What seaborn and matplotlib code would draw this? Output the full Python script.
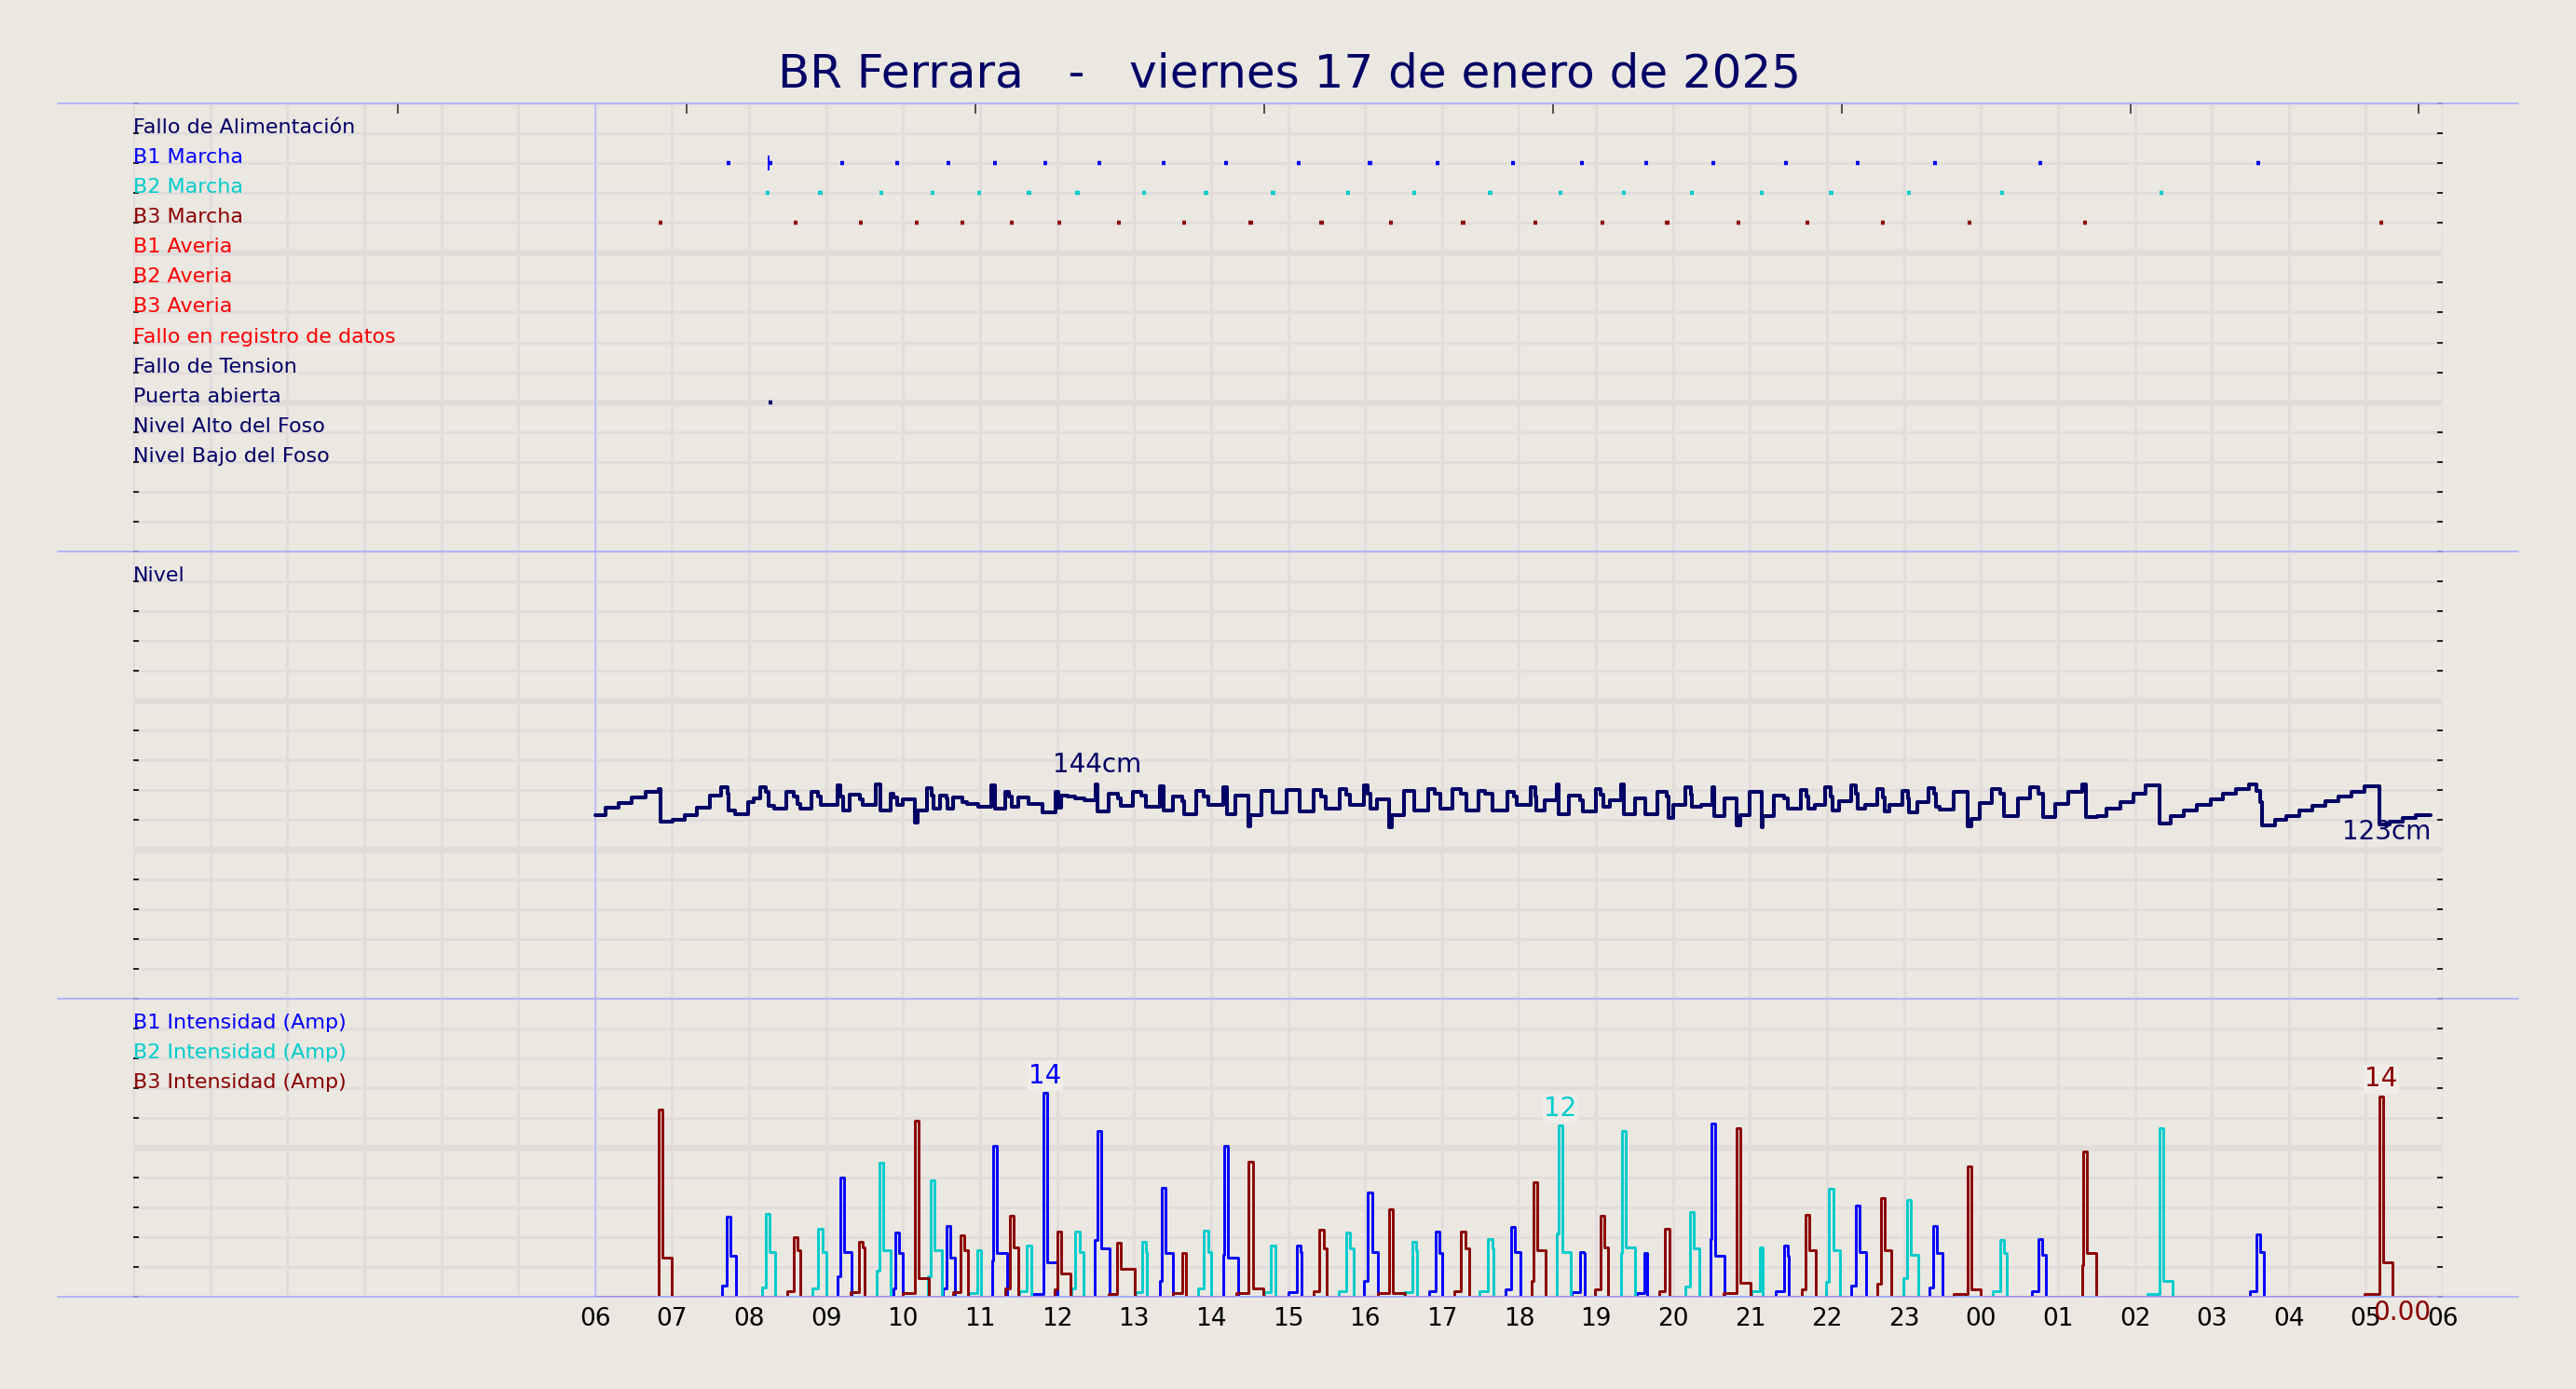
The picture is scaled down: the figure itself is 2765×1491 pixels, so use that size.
import numpy as np
import pandas as pd
import matplotlib
matplotlib.use("Agg")
import matplotlib.pyplot as plt
from matplotlib.lines import Line2D
import seaborn as sns

TITLE = "BR Ferrara   -   viernes 17 de enero de 2025"

NAVY = "#000066"
BLUE = "#0000ff"
CYAN = "#00cccc"
DRED = "#8b0000"
RED = "#ff0000"
BG = "#ebe7e1"
GRID = "#e1dcdb"
LAV = "#aaaaff"

# digital signals, top panel, one row each from the top
signal_names = ["Fallo de Alimentación", "B1 Marcha", "B2 Marcha", "B3 Marcha",
                "B1 Averia", "B2 Averia", "B3 Averia", "Fallo en registro de datos",
                "Fallo de Tension", "Puerta abierta", "Nivel Alto del Foso",
                "Nivel Bajo del Foso"]
signal_colors = [NAVY, BLUE, CYAN, DRED, RED, RED, RED, RED, NAVY, NAVY, NAVY, NAVY]

hour_ticks = list(range(6, 31))
hour_labels = [f"{h % 24:02d}" for h in hour_ticks]

# pit level (decimal hour from 00:00 on the 17th, cm)
level_t = [6.00, 6.14, 6.31, 6.48, 6.65, 6.82, 6.85, 7.01, 7.16, 7.32, 7.49, 7.64, 7.72, 7.73,
           7.82, 7.99, 8.06, 8.15, 8.22, 8.25, 8.32, 8.48, 8.58, 8.63, 8.66, 8.81, 8.90, 8.93,
           9.15, 9.19, 9.22, 9.31, 9.44, 9.48, 9.65, 9.70, 9.71, 9.84, 9.88, 9.92, 10.00, 10.15,
           10.19, 10.31, 10.37, 10.40, 10.48, 10.56, 10.58, 10.65, 10.77, 10.83, 10.98, 11.15,
           11.19, 11.33, 11.37, 11.41, 11.49, 11.63, 11.81, 11.98, 12.02, 12.05, 12.14, 12.24,
           12.35, 12.50, 12.53, 12.67, 12.79, 12.83, 12.99, 13.09, 13.15, 13.33, 13.38, 13.51,
           13.63, 13.65, 13.81, 13.90, 13.96, 14.16, 14.21, 14.32, 14.48, 14.51, 14.66, 14.80,
           14.98, 15.15, 15.33, 15.43, 15.49, 15.67, 15.75, 15.81, 15.99, 16.04, 16.07, 16.15,
           16.31, 16.35, 16.50, 16.64, 16.82, 16.90, 16.98, 17.14, 17.24, 17.32, 17.48, 17.56,
           17.65, 17.85, 17.93, 17.97, 18.15, 18.21, 18.23, 18.33, 18.49, 18.52, 18.65, 18.79,
           18.83, 19.00, 19.06, 19.10, 19.18, 19.32, 19.36, 19.51, 19.64, 19.80, 19.92, 19.94,
           20.00, 20.16, 20.23, 20.25, 20.37, 20.51, 20.53, 20.67, 20.83, 20.87, 20.99, 21.15,
           21.17, 21.31, 21.44, 21.49, 21.66, 21.73, 21.76, 21.84, 21.98, 22.05, 22.07, 22.16,
           22.32, 22.38, 22.40, 22.50, 22.65, 22.73, 22.75, 22.81, 22.98, 23.05, 23.06, 23.17,
           23.32, 23.39, 23.41, 23.47, 23.64, 23.83, 23.87, 23.98, 24.14, 24.25, 24.30, 24.48,
           24.64, 24.75, 24.81, 24.97, 25.14, 25.32, 25.36, 25.51, 25.63, 25.81, 25.98, 26.14,
           26.32, 26.47, 26.63, 26.81, 26.98, 27.14, 27.31, 27.48, 27.58, 27.63, 27.65, 27.82,
           27.97, 28.13, 28.31, 28.48, 28.64, 28.81, 28.98, 29.17, 29.31, 29.48, 29.65, 29.84]
level_cm = [123.3, 127.9, 131.4, 135.1, 139.0, 140.5, 118.7, 119.8, 123.3, 127.9, 136.2, 142.0,
            137.2, 126.3, 124.0, 131.6, 134.4, 142.0, 139.0, 129.3, 127.4, 138.5, 135.5, 130.9,
            127.4, 139.0, 135.5, 129.8, 143.2, 135.5, 126.3, 136.7, 133.7, 129.8, 143.5, 135.5,
            126.3, 137.2, 134.8, 129.8, 133.7, 118.2, 126.3, 141.3, 136.2, 127.4, 136.2, 134.4,
            127.4, 135.1, 132.1, 130.9, 128.6, 143.2, 127.4, 139.0, 135.5, 128.6, 134.8, 130.9,
            125.1, 139.0, 128.0, 136.5, 135.5, 134.4, 133.2, 144.0, 125.6, 137.2, 134.4, 129.3,
            139.0, 136.2, 128.6, 142.5, 126.3, 135.5, 132.5, 124.0, 139.5, 135.5, 129.8, 141.8,
            124.0, 136.2, 115.9, 123.3, 139.5, 125.1, 140.2, 125.6, 140.2, 135.5, 127.4, 140.9,
            136.7, 129.8, 143.2, 137.8, 127.4, 133.9, 114.7, 123.3, 139.5, 126.3, 140.9, 137.2,
            127.4, 140.9, 137.2, 126.3, 139.5, 137.2, 126.3, 138.5, 135.5, 129.8, 141.8, 135.5,
            126.3, 133.2, 143.5, 124.0, 136.2, 133.2, 125.6, 140.9, 136.7, 128.6, 133.2, 143.8,
            124.0, 134.4, 124.0, 139.0, 135.5, 121.0, 130.2, 141.8, 136.7, 128.6, 129.8, 141.8,
            122.8, 134.4, 116.3, 123.3, 139.0, 114.7, 122.4, 136.2, 134.4, 127.4, 140.2, 135.5,
            127.4, 130.2, 141.8, 135.5, 126.3, 132.5, 143.2, 137.8, 127.4, 130.2, 140.9, 134.8,
            125.6, 130.2, 139.5, 134.4, 124.7, 131.6, 141.3, 137.2, 128.6, 127.0, 139.0, 115.9,
            120.5, 131.4, 140.6, 137.8, 122.8, 134.4, 142.0, 137.8, 121.7, 130.9, 139.0, 143.5,
            121.7, 122.4, 127.4, 132.1, 137.2, 143.2, 117.7, 122.4, 126.3, 129.8, 133.7, 137.2,
            140.9, 143.5, 139.5, 132.1, 116.3, 120.0, 122.8, 126.3, 129.1, 132.5, 135.5, 138.5,
            142.5, 117.0, 118.7, 121.0, 123.3, 123.3]

# pump runs: start, peak, stop (hour) and pre-start, peak, running current (A)
b1_on = [7.65, 9.15, 9.88, 10.52, 11.16, 11.68, 12.49, 13.33, 14.16, 15.00, 15.99, 16.83,
         17.83, 18.69, 19.53, 20.49, 21.33, 22.32, 23.33, 24.66, 27.49]
b1_pk = [7.71, 9.18, 9.90, 10.56, 11.17, 11.82, 12.52, 13.36, 14.17, 15.11, 16.04, 16.92,
         17.90, 18.79, 19.63, 20.50, 21.44, 22.37, 23.38, 24.75, 27.58]
b1_off = [7.83, 9.33, 9.99, 10.67, 11.35, 12.00, 12.68, 13.51, 14.35, 15.17, 16.17, 17.00,
          18.02, 18.85, 19.67, 20.67, 21.50, 22.51, 23.50, 24.84, 27.67]
b1_pre = [0.8, 1.4, 0.6, 0.6, 2.5, 0.2, 3.9, 1.1, 2.9, 0.3, 1.1, 0.4,
          0.5, 0.3, 0.25, 4.0, 0.4, 0.8, 0.65, 0.37, 0.37]
b1_max = [5.5, 8.2, 4.4, 4.9, 10.4, 14.0, 11.4, 7.5, 10.4, 3.5, 7.2, 4.5,
          4.8, 3.1, 3.0, 11.9, 3.5, 6.3, 4.9, 3.95, 4.3]
b1_run = [2.8, 3.1, 3.0, 2.7, 3.0, 2.4, 3.3, 3.0, 2.7, 3.1, 3.1, 3.0,
          3.1, 3.0, 3.0, 2.8, 2.8, 3.1, 3.0, 2.9, 3.1]

b2_on = [8.165, 8.82, 9.66, 10.32, 10.85, 11.51, 12.18, 13.02, 13.83, 14.69, 15.66, 16.50,
         17.49, 18.49, 19.33, 20.16, 21.02, 21.99, 22.99, 24.15, 26.16]
b2_pk = [8.22, 8.90, 9.69, 10.36, 10.96, 11.61, 12.24, 13.10, 13.91, 14.78, 15.75, 16.61,
         17.60, 18.51, 19.34, 20.22, 21.13, 22.03, 23.04, 24.25, 26.32]
b2_off = [8.34, 9.00, 9.84, 10.50, 11.01, 11.67, 12.34, 13.17, 14.00, 14.84, 15.85, 16.68,
          17.67, 18.67, 19.51, 20.34, 21.17, 22.17, 23.18, 24.33, 26.49]
b2_pre = [0.65, 0.55, 1.8, 1.4, 0.25, 0.37, 0.55, 0.3, 0.55, 0.3, 0.4, 0.3,
          0.37, 4.35, 3.0, 0.7, 0.37, 1.0, 1.3, 0.37, 0.2]
b2_max = [5.7, 4.7, 9.2, 8.0, 3.2, 3.5, 4.5, 3.75, 4.55, 3.55, 4.45, 3.75,
          3.95, 11.8, 11.4, 5.85, 3.4, 7.4, 6.65, 3.9, 11.6]
b2_run = [3.1, 3.1, 3.2, 3.2, 3.2, 3.3, 3.1, 3.1, 3.1, 3.3, 3.3, 3.2,
          3.3, 3.1, 3.4, 3.3, 3.4, 3.2, 2.9, 3.0, 1.1]

b3_on = [6.82, 8.49, 9.32, 9.99, 10.65, 11.33, 11.97, 12.67, 13.50, 14.33, 15.33, 16.17,
         17.16, 18.16, 18.99, 19.82, 20.66, 21.67, 22.65, 23.65, 25.32, 28.98]
b3_pk = [6.82, 8.58, 9.43, 10.15, 10.75, 11.39, 12.00, 12.78, 13.62, 14.49, 15.41, 16.31,
         17.25, 18.19, 19.06, 19.90, 20.83, 21.72, 22.70, 23.83, 25.33, 29.17]
b3_off = [7.00, 8.67, 9.50, 10.33, 10.84, 11.50, 12.17, 13.01, 13.67, 14.68, 15.50, 16.52,
          17.35, 18.34, 19.16, 19.96, 21.01, 21.85, 22.84, 24.00, 25.50, 29.34]
b3_pre = [0.0, 0.37, 0.3, 0.25, 0.3, 0.55, 0.5, 0.2, 0.25, 0.25, 0.4, 0.25,
          0.4, 1.1, 0.5, 0.37, 0.25, 0.5, 0.9, 0.2, 2.2, 0.2]
b3_max = [12.9, 4.1, 3.8, 12.1, 4.2, 5.6, 4.5, 3.7, 3.0, 9.3, 4.6, 6.05,
          4.5, 7.85, 5.55, 4.7, 11.6, 5.65, 6.8, 9.0, 10.0, 13.8]
b3_run = [2.7, 3.2, 3.4, 1.3, 3.2, 3.4, 1.6, 1.95, 3.0, 0.55, 3.3, 0.25,
          3.3, 3.2, 3.4, 4.7, 0.95, 3.2, 3.2, 0.5, 3.0, 2.4]

# single extra marks in the top panel
b1_blip = [8.25]
puerta_t = [8.25]

top_marks = [3.44, 7.19, 10.94, 14.69, 18.44, 22.19, 25.94, 29.69]

SPIKE = 0.05
DOT = 0.05


def run_steps(on, pk, off, pre, mx, run):
    t, v = [6.0], [0.0]
    for a, s, b, p0, p1, p2 in zip(on, pk, off, pre, mx, run):
        if s > a:
            t.append(a)
            v.append(p0)
        t += [s, min(s + SPIKE, b - 0.005), b]
        v += [p1, p2, 0.0]
    t.append(level_t[-1])
    v.append(0.0)
    return pd.DataFrame({"hora": t, "amp": v})


sns.set_theme(style="whitegrid", rc={
    "axes.facecolor": BG, "figure.facecolor": BG, "grid.color": GRID,
    "grid.linewidth": 1.9, "axes.edgecolor": BG,
})
plt.rcParams["font.family"] = ["DejaVu Sans"]

fig = plt.figure(figsize=(27.65, 14.91), dpi=100)
L, W = 0.05172, 0.8966
ax1 = fig.add_axes([L, 0.60295, W, 0.32260])
ax2 = fig.add_axes([L, 0.28102, W, 0.32193])
ax3 = fig.add_axes([L, 0.06640, W, 0.21462])

rows = {ax1: (np.arange(0, 16), [5, 10], 15),
        ax2: (np.arange(0, 301, 20), [100, 200], 300),
        ax3: (np.linspace(0, 20.5, 11), [10.25], 20.5)}

for ax, (yt, majors, top) in rows.items():
    ax.set_xlim(0, 30)
    ax.set_ylim(0, top)
    ax.set_xticks(range(0, 31))
    ax.set_yticks(yt)
    ax.set_axisbelow(True)
    ax.grid(True, color=GRID, lw=1.9)
    for m in majors:
        ax.axhline(m, color=GRID, lw=4.7, zorder=0.6)
    ax.axvline(6, color="#bbbbff", lw=1.2, zorder=0.7)
    for sp in ax.spines.values():
        sp.set_visible(False)
    ax.tick_params(axis="y", which="both", direction="in", left=True, right=True,
                   labelleft=False, labelright=False, length=4, width=1.2, color="black")
    ax.tick_params(axis="x", length=0, labelbottom=False)

# x labels on the bottom panel only
ax3.set_xticks(range(0, 31))
ax3.set_xticklabels([""] * 6 + hour_labels)
ax3.tick_params(axis="x", labelbottom=True, labelsize=19, pad=8, colors="black")

# top panel: signal names and run marks
for i, (name, col) in enumerate(zip(signal_names, signal_colors)):
    ax1.text(0.0, 14 - i, name, color=col, fontsize=16, va="baseline", ha="left")

for row, pk, col in [(13, b1_pk, BLUE), (12, b2_pk, CYAN), (11, b3_pk, DRED)]:
    pk = np.array(pk)
    ax1.hlines([row] * len(pk), pk, pk + DOT, color=col, lw=3.2, zorder=3)
ax1.hlines([13], b1_blip, np.array(b1_blip) + DOT, color=BLUE, lw=3.2, zorder=3)
ax1.plot(b1_blip, [13], marker="|", ms=11, mew=1.4, color=BLUE, zorder=3)
ax1.hlines([5], puerta_t, np.array(puerta_t) + DOT, color=NAVY, lw=3.2, zorder=3)

top = ax1.twiny()
top.set_xlim(0, 30)
top.set_xticks(top_marks)
top.tick_params(axis="x", direction="in", length=8, width=1.2, color="#333333",
                labeltop=False, top=True)
top.grid(False)
for sp in top.spines.values():
    sp.set_visible(False)

# level panel
ax2.text(0.0, 280, "Nivel", color=NAVY, fontsize=16, va="baseline", ha="left")
level = pd.DataFrame({"hora": level_t, "cm": level_cm})
sns.lineplot(data=level, x="hora", y="cm", ax=ax2, color=NAVY, lw=2.9,
             drawstyle="steps-post", estimator=None, sort=False, legend=False)
imax = int(np.argmax(level_cm))
ax2.annotate(f"{level_cm[imax]:.0f}cm", (level_t[imax] + 0.015, level_cm[imax]),
             xytext=(0, 5), textcoords="offset points", ha="center", va="bottom",
             fontsize=20, color=NAVY)
ax2.annotate(f"{level_cm[-1]:.0f}cm", (level_t[-1], level_cm[-1]),
             xytext=(0, -3), textcoords="offset points", ha="right", va="top",
             fontsize=20, color=NAVY)

# current panel
ax3.text(0.0, 18.45, "B1 Intensidad (Amp)", color=BLUE, fontsize=16, va="baseline")
ax3.text(0.0, 16.40, "B2 Intensidad (Amp)", color=CYAN, fontsize=16, va="baseline")
ax3.text(0.0, 14.35, "B3 Intensidad (Amp)", color=DRED, fontsize=16, va="baseline")

pumps = [(b1_on, b1_pk, b1_off, b1_pre, b1_max, b1_run, BLUE),
         (b2_on, b2_pk, b2_off, b2_pre, b2_max, b2_run, CYAN),
         (b3_on, b3_pk, b3_off, b3_pre, b3_max, b3_run, DRED)]
for on, pk, off, pre, mx, run, col in pumps:
    df = run_steps(on, pk, off, pre, mx, run)
    sns.lineplot(data=df, x="hora", y="amp", ax=ax3, color=col, lw=2.1,
                 drawstyle="steps-post", estimator=None, sort=False, legend=False)
    k = int(np.argmax(mx))
    ax3.annotate(f"{mx[k]:.0f}", (pk[k] + SPIKE / 2, mx[k]), xytext=(0, 3),
                 textcoords="offset points", ha="center", va="bottom", fontsize=20,
                 color=col, bbox=dict(fc="#f0ede8", ec="none", pad=1))

ax3.annotate(f"{0.0:.2f}", (level_t[-1], 0), xytext=(0, -2), textcoords="offset points",
             ha="right", va="top", fontsize=20, color=DRED, annotation_clip=False)

for ax in (ax1, ax2, ax3):
    ax.set_xlabel("")
    ax.set_ylabel("")
    ax.set_xlim(0, 30)

# thin separator lines across the figure
for y in [0.92555, 0.60295, 0.28102, 0.06640]:
    fig.add_artist(Line2D([0.0223, 0.9776], [y, y], transform=fig.transFigure,
                          color=LAV, lw=1.2))

fig.text(0.5006, 0.947, TITLE, ha="center", va="center", fontsize=36, color=NAVY)

fig.savefig("out.png", dpi=100, facecolor=BG)
